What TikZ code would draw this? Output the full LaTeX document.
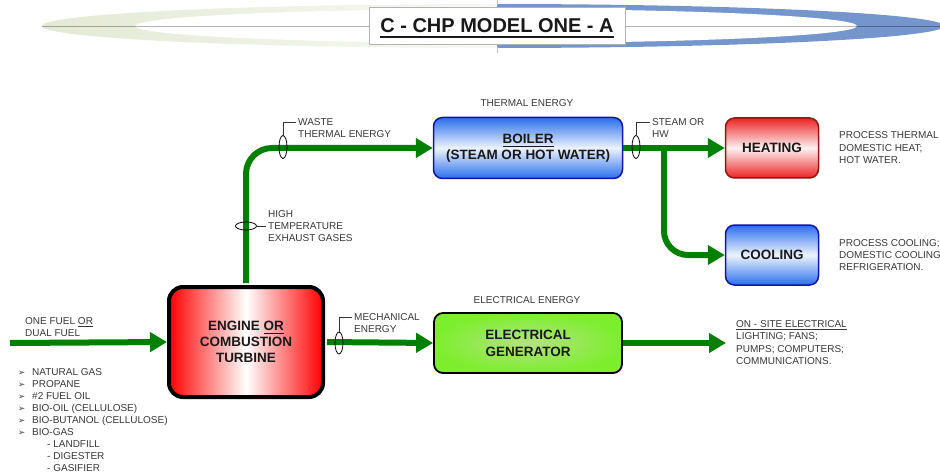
\documentclass[tikz,border=0pt]{standalone}
\usepackage{fontspec}
\setmainfont{Liberation Sans}
\newfontfamily\symfont{DejaVu Sans}
\usetikzlibrary{arrows.meta,shapes.geometric}

\definecolor{flowgreen}{RGB}{0,128,0}
\definecolor{txtgray}{RGB}{55,55,55}
\definecolor{boxtext}{RGB}{25,25,25}
\definecolor{engred}{RGB}{255,0,0}
\definecolor{boxblue}{RGB}{40,110,235}
\definecolor{blueedge}{RGB}{20,20,170}
\definecolor{heatred}{RGB}{235,35,35}
\definecolor{rededge}{RGB}{150,20,20}
\definecolor{genout}{RGB}{125,238,45}
\definecolor{genin}{RGB}{180,226,130}
\definecolor{bannerL}{RGB}{228,233,212}
\definecolor{bannerR}{RGB}{116,150,205}

% underline: #1 gap below baseline, #2 rule thickness, #3 text
\newcommand\ulbox[3]{{\sbox0{#3}\rlap{\rule[\dimexpr-#1-#2\relax]{\wd0}{#2}}\usebox0}}
\newcommand\lblul[1]{\ulbox{1.8pt}{0.6pt}{#1}}
\newcommand\boxul[1]{\ulbox{2.2pt}{1pt}{#1}}
\newcommand\titleul[1]{\ulbox{3.2pt}{1.6pt}{#1}}
% list bullet
\newcommand\itemmark{\makebox[14pt][l]{\symfont\fontsize{8.5}{12}\selectfont ➢}}

\tikzset{
  lbl/.style={font=\fontsize{10}{12}\selectfont, text=txtgray, align=left, inner sep=0pt, anchor=north west},
  midlbl/.style={font=\fontsize{10}{12}\selectfont, text=txtgray, inner sep=0pt},
  boxtxt/.style={font=\bfseries\fontsize{13.5}{16}\selectfont, text=boxtext, align=center},
  bluebox/.style={rounded corners=9pt, draw=blueedge, line width=1.5pt,
    top color=boxblue, bottom color=boxblue, middle color=white!92!boxblue, boxtxt},
  redbox/.style={rounded corners=9pt, draw=rededge, line width=1.5pt,
    top color=heatred, bottom color=heatred, middle color=white!94!heatred, boxtxt},
  flow/.style={draw=flowgreen, line width=6pt},
  flowarrow/.style={flow, -{Triangle[length=17pt,width=19pt]}},
  tie/.style={ellipse, draw=black, line width=0.8pt, inner sep=0pt},
  leader/.style={draw=black!80, line width=0.7pt},
}

\begin{document}
\begin{tikzpicture}[x=1pt, y=-1pt]
\useasboundingbox (0,0) rectangle (940,476);

% ---- title banner ----
\begin{scope}
  \clip (493,26) ellipse [x radius=451pt, y radius=22pt];
  \shade[left color=bannerL, right color=bannerL!25!white] (40,0) rectangle (497,52);
  \fill[bannerR] (497,0) rectangle (945,52);
\end{scope}
\fill[white] (496,26) ellipse [x radius=361pt, y radius=17pt];
\draw[black, opacity=0.3, line width=0.9pt] (42,26) -- (940,26);
\draw[black!25, line width=0.8pt] (497,0) -- (497,5);
\draw[black!25, line width=0.8pt] (497,47) -- (497,53);
\node[draw=black!30, fill=white, line width=0.8pt, minimum width=256pt, minimum height=37pt] (titlebox) at (497,26) {};
\node[font=\bfseries\fontsize{20}{24}\selectfont, text=black!90, anchor=base, inner sep=0pt] (titletext) at (497,33) {\titleul{C - CHP MODEL ONE - A}};

% ---- main blocks ----
\node[rounded corners=14pt, draw=black, line width=4pt,
      left color=engred, right color=engred, middle color=white,
      minimum width=154pt, minimum height=110pt, boxtxt] (engine) at (246,342)
      {ENGINE \boxul{OR}\\COMBUSTION\\TURBINE};
\node[bluebox, minimum width=189pt, minimum height=61pt] (boiler) at (528,148)
      {\boxul{BOILER}\\(STEAM OR HOT WATER)};
\node[redbox, minimum width=93pt, minimum height=60pt] (heating) at (772,148) {HEATING};
\node[bluebox, minimum width=93pt, minimum height=60pt] (cooling) at (772,255) {COOLING};
\node[rounded corners=9pt, draw=black, line width=1.8pt, inner color=genin, outer color=genout,
      minimum width=188pt, minimum height=60pt, boxtxt, font=\bfseries\fontsize{13.5}{17}\selectfont] (gen) at (528,343)
      {ELECTRICAL\\GENERATOR};

% ---- energy flows ----
\coordinate (fuelIn) at (10,343);
\coordinate (elecOut) at (726,343);
\coordinate (split) at (664,148);
\draw[flowarrow] (fuelIn) -- (engine.west);
\draw[flowarrow, shorten <=2pt] (engine.east) -- (gen.west);
\draw[flowarrow] (gen.east) -- (elecOut);
\draw[flowarrow, rounded corners=26pt, shorten <=2pt] (engine.north) |- (boiler.west);
\draw[flowarrow] (boiler.east) -- (heating.west);
\draw[flowarrow, rounded corners=24pt] (split) |- (cooling.west);

% ---- pipe tags with leaders ----
\node[tie, minimum width=8pt, minimum height=23pt] (tieWaste) at (283,147) {};
\node[tie, minimum width=21pt, minimum height=8pt] (tieHot) at (246,226) {};
\node[tie, minimum width=8pt, minimum height=23pt] (tieSteam) at (636,147) {};
\node[tie, minimum width=8pt, minimum height=22pt] (tieMech) at (339,343) {};
\coordinate (wasteTag) at (296,122);
\coordinate (hotTag) at (266,226);
\coordinate (steamTag) at (650,122);
\coordinate (mechTag) at (352,317);
\draw[leader] (tieWaste.north) |- (wasteTag);
\draw[leader] (tieHot.east) -- (hotTag);
\draw[leader] (tieSteam.north) |- (steamTag);
\draw[leader] (tieMech.north) |- (mechTag);

% ---- labels ----
\node[lbl] (wasteLbl) at (298,118.4) {WASTE\\THERMAL ENERGY};
\node[lbl] (hotLbl) at (268,210.4) {HIGH\\TEMPERATURE\\EXHAUST GASES};
\node[lbl] (steamLbl) at (652,118.4) {STEAM OR\\HW};
\node[lbl] (mechLbl) at (354,313.4) {MECHANICAL\\ENERGY};
\node[midlbl] (thermLbl) at (527,103) {THERMAL ENERGY};
\node[midlbl] (elecLbl) at (527,300) {ELECTRICAL ENERGY};
\node[lbl, font=\fontsize{10}{12.5}\selectfont] (heatUse) at (839,131.4) {PROCESS THERMAL\\DOMESTIC HEAT;\\HOT WATER.};
\node[lbl] (coolUse) at (839,239.4) {PROCESS COOLING;\\DOMESTIC COOLING\\REFRIGERATION.};
\node[lbl, font=\fontsize{10}{12.3}\selectfont] (elecUse) at (736,320.4)
      {\lblul{ON - SITE ELECTRICAL}\\LIGHTING; FANS;\\PUMPS; COMPUTERS;\\COMMUNICATIONS.};
\node[lbl] (fuelLbl) at (25,317) {ONE FUEL \lblul{OR}\\DUAL FUEL};
\node[lbl] (fuelList) at (18,368.4) {%
  \itemmark NATURAL GAS\\
  \itemmark PROPANE\\
  \itemmark \#2 FUEL OIL\\
  \itemmark BIO-OIL (CELLULOSE)\\
  \itemmark BIO-BUTANOL (CELLULOSE)\\
  \itemmark BIO-GAS\\
  \hspace*{29pt}- LANDFILL\\
  \hspace*{29pt}- DIGESTER\\
  \hspace*{29pt}- GASIFIER};
\end{tikzpicture}
\end{document}
